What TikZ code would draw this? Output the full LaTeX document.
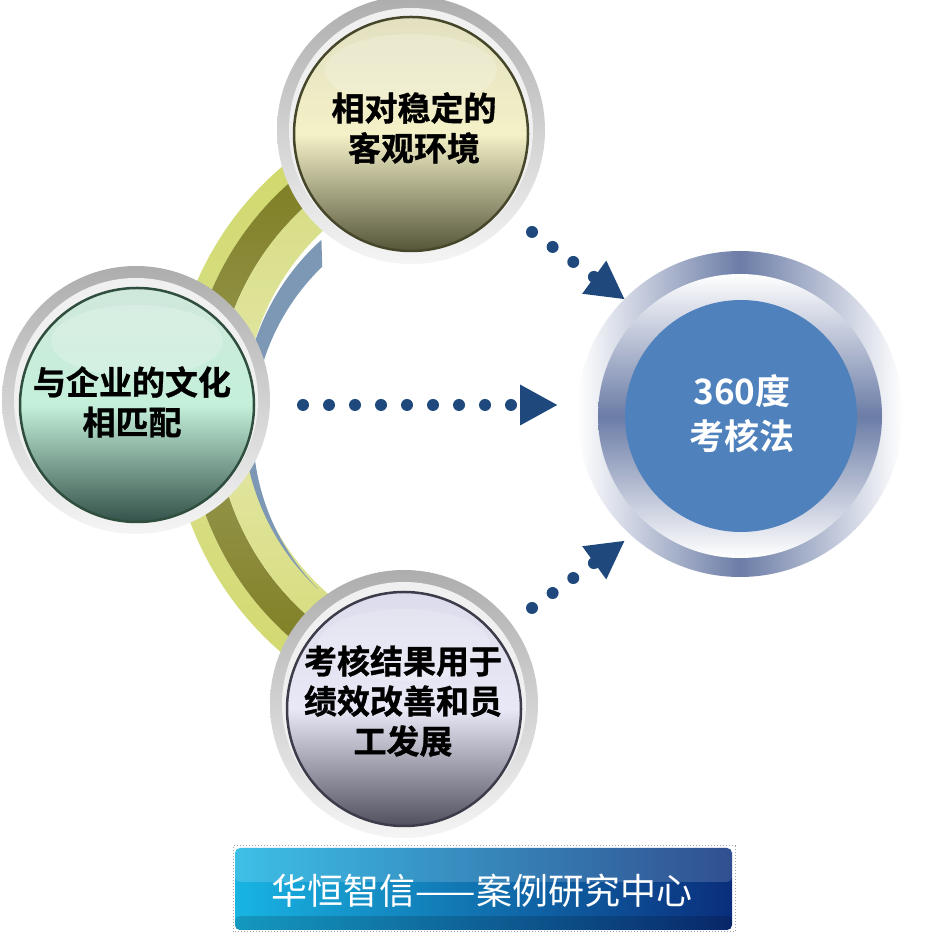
\documentclass[tikz,border=0pt]{standalone}
\usepackage{fontspec}
\setmainfont{Noto Sans CJK SC}[BoldFont={Noto Sans CJK SC Bold}]
\newfontfamily\heavyfont{Noto Sans CJK SC Bold}[FakeBold=1]
\usetikzlibrary{arrows.meta}
\usepackage{xcolor}

\definecolor{dotblue}{HTML}{1F497D}
\definecolor{coreblue}{HTML}{4F81BD}
\definecolor{steel}{HTML}{6B7CA6}
\definecolor{arcblue}{HTML}{7D98B4}
\definecolor{bannercyan}{HTML}{18B4E2}
\definecolor{bannernavy}{HTML}{0A2E7C}
% olive band
\definecolor{oliveAtop}{HTML}{D0D86A}
\definecolor{oliveAmid}{HTML}{DAE08C}
\definecolor{oliveAbot}{HTML}{D2D96E}
\definecolor{oliveBtop}{HTML}{7C7C20}
\definecolor{oliveBmid}{HTML}{9B9B58}
\definecolor{oliveBbot}{HTML}{7E7E22}
\definecolor{oliveCtop}{HTML}{D6DC80}
\definecolor{oliveCmid}{HTML}{E4E8AA}
\definecolor{oliveCbot}{HTML}{D6DC7C}
% bubbles
\definecolor{creamtop}{HTML}{E2E0C0}
\definecolor{creammid}{HTML}{F4F1C8}
\definecolor{creamdark}{HTML}{55553A}
\definecolor{creamrim}{HTML}{46462A}
\definecolor{minttop}{HTML}{D0E8DC}
\definecolor{mintmid}{HTML}{C4F0DA}
\definecolor{mintdark}{HTML}{34524A}
\definecolor{mintrim}{HTML}{304E3E}
\definecolor{lilactop}{HTML}{DCDCEC}
\definecolor{lilacmid}{HTML}{E8E8F6}
\definecolor{lilacdark}{HTML}{50505E}
\definecolor{lilacrim}{HTML}{3C3C4A}

\begin{document}
\begin{tikzpicture}[x=1pt,y=1pt,
  ringgray/.style={top color=black!32, bottom color=black!4},
  dotrow/.style={draw=dotblue, line width=12pt, line cap=round, dash pattern=on 0pt off 25.5pt, -{Triangle[length=38pt,width=38pt]}},
  bubbletext/.style={font=\heavyfont\fontsize{33}{40}\selectfont, align=center, text=black},
  coretext/.style={font=\bfseries\fontsize{35}{45}\selectfont, align=center, text=white}
]
\useasboundingbox (0,0) rectangle (924,937);

% olive band behind the bubbles
\coordinate (oc) at (490,527);
\shade[top color=oliveAtop, bottom color=oliveAbot, middle color=oliveAmid]
  ([shift={(oc)}]122:320) arc[start angle=122, end angle=238, radius=320] -- ([shift={(oc)}]238:303) arc[start angle=238, end angle=122, radius=303] -- cycle;
\shade[top color=oliveBtop, bottom color=oliveBbot, middle color=oliveBmid]
  ([shift={(oc)}]122:303) arc[start angle=122, end angle=238, radius=303] -- ([shift={(oc)}]238:275) arc[start angle=238, end angle=122, radius=275] -- cycle;
\shade[top color=oliveCtop, bottom color=oliveCbot, middle color=oliveCmid]
  ([shift={(oc)}]122:275) arc[start angle=122, end angle=238, radius=275] -- ([shift={(oc)}]238:245) arc[start angle=238, end angle=122, radius=245] -- cycle;

% thin blue crescent
\coordinate (pc) at (480,521);
\fill[arcblue] ([shift={(pc)}]132:237) arc[start angle=132, end angle=226.8, radius=237] arc[start angle=224.4, end angle=134, radius=227] -- cycle;

% top bubble
\begin{scope}[shift={(411,807)}]{
\shade[ringgray] (0,0) circle[radius=134];
\fill[black!6] (0,0) circle[radius=122];
\shade[top color=creamtop, bottom color=creamdark, middle color=creammid] (0,-4) circle[radius=117];
\draw[creamrim, line width=2.5pt] (0,-4) circle[radius=117];
\fill[white, opacity=0.2] (0,60) ellipse[x radius=86, y radius=36];
\node[bubbletext] (env) at (3,2) {相对稳定的\\客观环境};
} \end{scope}

% left bubble
\begin{scope}[shift={(136,537)}]{
\shade[ringgray] (0,0) circle[radius=134];
\fill[black!6] (0,0) circle[radius=122];
\shade[top color=minttop, bottom color=mintdark, middle color=mintmid] (1,-5) circle[radius=117];
\draw[mintrim, line width=2.5pt] (1,-5) circle[radius=117];
\fill[white, opacity=0.2] (1,59) ellipse[x radius=86, y radius=36];
\node[bubbletext] (cult) at (-4,-2) {与企业的文化\\相匹配};
} \end{scope}

% bottom bubble
\begin{scope}[shift={(404,233)}]{
\shade[ringgray] (0,0) circle[radius=134];
\fill[black!6] (0,0) circle[radius=122];
\shade[top color=lilactop, bottom color=lilacdark, middle color=lilacmid] (0,-5) circle[radius=117];
\draw[lilacrim, line width=2.5pt] (0,-5) circle[radius=117];
\fill[white, opacity=0.2] (0,59) ellipse[x radius=86, y radius=36];
\node[bubbletext] (use) at (-1,3) {考核结果用于\\绩效改善和员\\工发展};
} \end{scope}

% right core circle
\begin{scope}[shift={(740,523)}]{
\shade[left color=white, right color=white, middle color=steel] (0,0) circle[radius=163];
\shade[top color=white, bottom color=white, middle color=steel] (0,-2) circle[radius=142];
\fill[coreblue] (1,-2) circle[radius=116];
\node[coretext] (core) at (2,0) {360度\\考核法};
} \end{scope}

% dotted arrows
\coordinate (ts) at (532,705);
\coordinate (te) at (625,637.5);
\coordinate (ms) at (303,532);
\coordinate (me) at (558,532);
\coordinate (bs) at (532,329);
\coordinate (be) at (625,396.5);
\draw[dotrow] (ts) -- (te);
\draw[dotrow, dash pattern=on 0pt off 26pt] (ms) -- (me);
\draw[dotrow] (bs) -- (be);

% banner
\draw[black!35, dotted, line width=1pt] (233,5) rectangle (735,91);
\node[minimum width=497, minimum height=82, rounded corners=5pt, left color=bannercyan, right color=bannernavy] (banner) at (483.5,48) {};
\fill[white, opacity=0.16, rounded corners=5pt] (banner.north west) rectangle ([yshift=-34]banner.north east);
\fill[black, opacity=0.15, rounded corners=5pt] ([yshift=14]banner.south west) rectangle (banner.south east);
\node[text=white, font=\fontsize{36}{40}\selectfont] (bannertext) at (482,46) {华恒智信——案例研究中心};

\end{tikzpicture}
\end{document}
